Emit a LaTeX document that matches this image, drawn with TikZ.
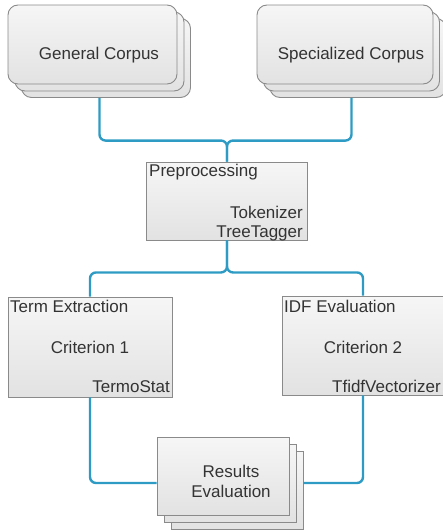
\documentclass[tikz,border=0pt]{standalone}
\usepackage{fontspec}
\setmainfont{Liberation Sans}
\usetikzlibrary{calc}
\definecolor{conn}{HTML}{2E9BC4}
\definecolor{boxdraw}{HTML}{8A8A8A}
\definecolor{boxtop}{HTML}{F6F6F6}
\definecolor{boxbot}{HTML}{E2E2E2}
\definecolor{txt}{HTML}{333333}
\begin{document}
\begin{tikzpicture}[x=1pt,y=-1pt,
  lbl/.style={font=\fontsize{17}{20}\selectfont, text=txt, inner sep=0pt},
  box/.style={draw=boxdraw, line width=0.9pt, top color=boxtop, bottom color=boxbot, inner sep=0pt},
  rbox/.style={box, rounded corners=10pt},
  gcbox/.style={rbox, minimum width=169pt, minimum height=79pt},
  scbox/.style={rbox, minimum width=176pt, minimum height=79pt},
  resbox/.style={box, minimum width=132pt, minimum height=78pt},
  conn/.style={draw=conn, line width=2.4pt, rounded corners=6pt}
]
\useasboundingbox (0,0) rectangle (443,530);

% ---- stacked boxes (back layers first)
\node[gcbox] (gc3) at (106,58) {};
\node[gcbox] (gc2) at (99.5,51.5) {};
\node[gcbox] (gc) at (92.5,44.5) {};
\node[scbox] (sc3) at (358,58) {};
\node[scbox] (sc2) at (351.5,51.5) {};
\node[scbox] (sc) at (345,44.5) {};
\node[resbox] (res3) at (237,490) {};
\node[resbox] (res2) at (230,483) {};
\node[resbox] (res) at (223,476) {};

% ---- single boxes
\node[box, minimum width=161pt, minimum height=78pt] (pre) at (227,201) {};
\node[box, minimum width=164pt, minimum height=100pt] (te) at (90,347) {};
\node[box, minimum width=162pt, minimum height=99pt] (idf) at (363,345.5) {};

% ---- connectors
\draw[conn] (gc2.south |- gc3.south) |- ($(pre.north)+(0,-21)$) -- (pre.north);
\draw[conn] (sc2.south |- sc3.south) |- ($(pre.north)+(0,-21)$) -- (pre.north);
\draw[conn] (pre.south) -- ++(0,32) -| (te.north);
\draw[conn] (pre.south) -- ++(0,32) -| (idf.north);
\draw[conn] (te.south) |- (res.west |- res2.west);
\draw[conn] (idf.south) |- (res3.east |- res2.east);

% ---- texts
\node[lbl, anchor=base] (gct) at (99,59) {General Corpus};
\node[lbl, anchor=base] (sct) at (351,59) {Specialized Corpus};
\node[lbl, anchor=base west] (pret) at (149,176) {Preprocessing};
\node[lbl, anchor=base east] (tok) at (303,218) {Tokenizer};
\node[lbl, anchor=base east] (tt) at (303,237) {TreeTagger};
\node[lbl, anchor=base west] (tet) at (10,312) {Term Extraction};
\node[lbl, anchor=base] (c1) at (90,353) {Criterion 1};
\node[lbl, anchor=base east] (ts) at (170,392) {TermoStat};
\node[lbl, anchor=base west] (idft) at (284,312) {IDF Evaluation};
\node[lbl, anchor=base] (c2) at (363,353) {Criterion 2};
\node[lbl, anchor=base east] (tv) at (441,392) {TfidfVectorizer};
\node[lbl, anchor=base] (rt1) at (231,477) {Results};
\node[lbl, anchor=base] (rt2) at (231,497) {Evaluation};
\end{tikzpicture}
\end{document}
